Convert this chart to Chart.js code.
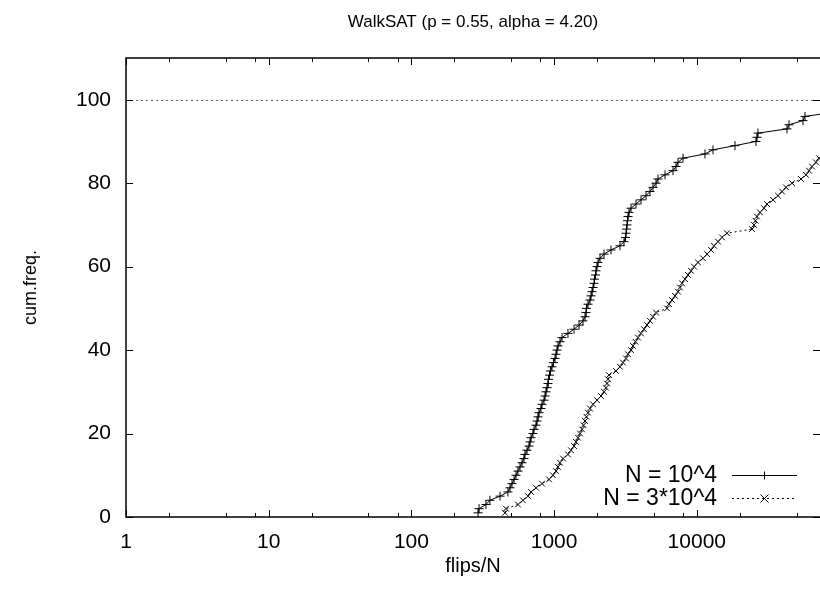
<!DOCTYPE html>
<html>
<head>
<meta charset="utf-8">
<script src="https://cdn.jsdelivr.net/npm/chart.js@4.4.1/dist/chart.umd.min.js"></script>
<style>
  html, body { margin: 0; padding: 0; background: #fff; overflow: hidden; }
</style>
</head>
<body>
<canvas id="walksatChart" width="820" height="592"></canvas>
<script>
// flips/N at which each run finished, and the cumulative count
const chartTitle = 'WalkSAT (p = 0.55, alpha = 4.20)';
const seriesNames = ['N = 10^4', 'N = 3*10^4'];

const flipsSmall = [293, 298, 333, 355, 418, 475, 491, 507, 524, 541,
    558, 577, 596, 615, 625, 646, 667, 678, 689, 711,
    723, 747, 759, 771, 784, 809, 823, 850, 864, 878,
    892, 906, 914, 929, 944, 967, 990, 1015, 1031, 1048,
    1065, 1100, 1136, 1251, 1379, 1495, 1594, 1647, 1673, 1687,
    1729, 1785, 1814, 1843, 1874, 1904, 1919, 1950, 1966, 1998,
    2031, 2097, 2237, 2504, 2896, 3089, 3165, 3191, 3217, 3243,
    3269, 3296, 3349, 3459, 3749, 4064, 4406, 4699, 4932, 5177,
    5347, 5986, 6811, 7148, 7384, 8007, 11414, 12989, 18521, 25990,
    26413, 26843, 42867, 44271, 55497, 57314, 90000];
const freqSmall = [1, 2, 3, 4, 5, 6, 7, 8, 9, 10,
    11, 12, 13, 14, 15, 16, 17, 18, 19, 20,
    21, 22, 23, 24, 25, 26, 27, 28, 29, 30,
    31, 32, 33, 34, 35, 36, 37, 38, 39, 40,
    41, 42, 43, 44, 45, 46, 47, 48, 49, 50,
    51, 52, 53, 54, 55, 56, 57, 58, 59, 60,
    61, 62, 63, 64, 65, 66, 67, 68, 69, 70,
    71, 72, 73, 74, 75, 76, 77, 78, 79, 80,
    81, 82, 83, 84, 85, 86, 87, 88, 89, 90,
    91, 92, 93, 94, 95, 96, 97];

const flipsLarge = [453, 460, 558, 605, 656, 689, 747, 823, 921, 982,
    1031, 1065, 1100, 1155, 1251, 1313, 1379, 1424, 1471, 1519,
    1569, 1607, 1647, 1687, 1729, 1785, 1874, 1998, 2131, 2237,
    2310, 2348, 2386, 2425, 2716, 2896, 3040, 3191, 3296, 3459,
    3572, 3719, 3871, 4064, 4266, 4478, 4699, 4932, 5177, 6183,
    6386, 6702, 7034, 7384, 7625, 7876, 8266, 8677, 9106, 9559,
    10195, 11050, 11790, 12579, 13203, 14084, 15022, 16277, 24371, 25170,
    25785, 26413, 27729, 29582, 31046, 34198, 37068, 39553, 42183, 46475,
    53737, 58246, 61135, 64164, 68440, 71835, 80418];
const freqLarge = [1, 2, 3, 4, 5, 6, 7, 8, 9, 10,
    11, 12, 13, 14, 15, 16, 17, 18, 19, 20,
    21, 22, 23, 24, 25, 26, 27, 28, 29, 30,
    31, 32, 33, 34, 35, 36, 37, 38, 39, 40,
    41, 42, 43, 44, 45, 46, 47, 48, 49, 50,
    51, 52, 53, 54, 55, 56, 57, 58, 59, 60,
    61, 62, 63, 64, 65, 66, 67, 68, 69, 70,
    71, 72, 73, 74, 75, 76, 77, 78, 79, 80,
    81, 82, 83, 84, 85, 86, 87];

const xTicks = [1, 10, 100, 1000, 10000];
const xMinorSteps = [2, 5, 8];
const yTicks = [0, 20, 40, 60, 80, 100];
const totalRuns = 100;

const FONT = 'Liberation Sans, Arial, Helvetica, sans-serif';

Chart.defaults.font.family = FONT;
Chart.defaults.font.size = 21;
Chart.defaults.color = '#000';

function toPoints(xs, ys) {
    return xs.map((v, i) => ({ x: v, y: ys[i] }));
}

function markPlus(ctx, x, y, r) {
    ctx.moveTo(x - r, y); ctx.lineTo(x + r, y);
    ctx.moveTo(x, y - r); ctx.lineTo(x, y + r);
}
function markCross(ctx, x, y, r) {
    ctx.moveTo(x - r, y - r); ctx.lineTo(x + r, y + r);
    ctx.moveTo(x - r, y + r); ctx.lineTo(x + r, y - r);
}

// gnuplot-like frame: inward ticks, mirrored, plus the dotted 100 line
const gnuFrame = {
    id: 'gnuFrame',
    beforeDatasetsDraw(chart) {
        const { ctx, chartArea: a, scales: { y } } = chart;
        const py = Math.round(y.getPixelForValue(totalRuns)) + 0.5;
        ctx.save();
        ctx.strokeStyle = '#666';
        ctx.lineWidth = 1;
        ctx.setLineDash([2, 3]);
        ctx.beginPath();
        ctx.moveTo(a.left, py);
        ctx.lineTo(a.right, py);
        ctx.stroke();
        ctx.restore();
    },
    afterDatasetsDraw(chart) {
        const { ctx, chartArea: a, scales: { x, y } } = chart;
        ctx.save();
        ctx.strokeStyle = '#000';
        ctx.lineWidth = 1;
        ctx.beginPath();
        xTicks.forEach(d => {
            const px = Math.round(x.getPixelForValue(d)) + 0.5;
            ctx.moveTo(px, a.bottom); ctx.lineTo(px, a.bottom - 7);
            ctx.moveTo(px, a.top); ctx.lineTo(px, a.top + 7);
            xMinorSteps.forEach(m => {
                if (d * m > x.max) return;
                const qx = Math.round(x.getPixelForValue(d * m)) + 0.5;
                ctx.moveTo(qx, a.bottom); ctx.lineTo(qx, a.bottom - 4);
                ctx.moveTo(qx, a.top); ctx.lineTo(qx, a.top + 4);
            });
        });
        yTicks.forEach(v => {
            const py = Math.round(y.getPixelForValue(v)) + 0.5;
            ctx.moveTo(a.left, py); ctx.lineTo(a.left + 7, py);
            ctx.moveTo(a.right, py); ctx.lineTo(a.right - 7, py);
        });
        ctx.stroke();

        ctx.lineWidth = 1.5;
        ctx.beginPath();
        ctx.moveTo(a.right, a.top);
        ctx.lineTo(a.left, a.top);
        ctx.lineTo(a.left, a.bottom);
        ctx.lineTo(a.right, a.bottom);
        ctx.stroke();

        // title, centred over the plot
        ctx.fillStyle = '#000';
        ctx.font = '17px ' + FONT;
        ctx.textAlign = 'center';
        ctx.textBaseline = 'middle';
        ctx.fillText(chartTitle, (a.left + a.right) / 2, 22);

        // key, bottom right, text left of the sample
        const rows = [
            { label: seriesNames[0], dash: [], mark: markPlus },
            { label: seriesNames[1], dash: [2, 3], mark: markCross }
        ];
        ctx.font = '23px ' + FONT;
        rows.forEach((r, i) => {
            const ly = 475 + i * 23;
            ctx.textAlign = 'right';
            ctx.fillText(r.label, 717, ly + 1);
            ctx.lineWidth = 1;
            ctx.setLineDash(r.dash);
            ctx.beginPath();
            ctx.moveTo(732, ly + 0.5); ctx.lineTo(797, ly + 0.5);
            ctx.stroke();
            ctx.setLineDash([]);
            ctx.beginPath();
            r.mark(ctx, 764.5, ly + 0.5, 4);
            ctx.stroke();
        });
        ctx.restore();
    }
};

const ctx = document.getElementById('walksatChart').getContext('2d');
const config = {
    type: 'line',
    data: {
        datasets: [{
            label: seriesNames[0],
            data: toPoints(flipsSmall, freqSmall),
            borderColor: '#000',
            borderWidth: 1,
            pointStyle: 'cross',
            pointRadius: 4.5,
            pointBorderColor: '#000',
            pointBorderWidth: 1,
            tension: 0
        },
        {
            label: seriesNames[1],
            data: toPoints(flipsLarge, freqLarge),
            borderColor: '#000',
            borderWidth: 1,
            borderDash: [2, 3],
            pointStyle: 'crossRot',
            pointRadius: 4,
            pointBorderColor: '#000',
            pointBorderWidth: 1,
            tension: 0
        }]
    },
    options: {
        responsive: false,
        animation: false,
        devicePixelRatio: 1,
        layout: { autoPadding: false, padding: { top: 58, right: 0, left: 0, bottom: 0 } },
        scales: {
            x: {
                type: 'logarithmic',
                min: 1,
                max: 73000,
                grid: { display: false, drawTicks: false, tickLength: 0 },
                border: { display: false },
                afterBuildTicks: (scale) => {
                    scale.ticks = xTicks.map(v => ({ value: v }));
                },
                afterFit: (scale) => {
                    scale.height = 75;
                    scale.paddingLeft = 0;
                    scale.paddingRight = 0;
                },
                ticks: {
                    autoSkip: false,
                    maxRotation: 0,
                    padding: 13,
                    callback: (v) => String(v)
                },
                title: { display: true, text: 'flips/N', font: { size: 20 }, padding: { top: 0, bottom: 14 } }
            },
            y: {
                min: 0,
                max: 110,
                grid: { display: false, drawTicks: false, tickLength: 0 },
                border: { display: false },
                afterBuildTicks: (scale) => {
                    scale.ticks = yTicks.map(v => ({ value: v }));
                },
                afterFit: (scale) => {
                    scale.width = 126;
                    scale.paddingTop = 0;
                    scale.paddingBottom = 0;
                },
                ticks: { padding: 15 },
                title: { display: true, text: 'cum.freq.', font: { size: 18 }, padding: { top: 20, bottom: 0 } }
            }
        },
        plugins: {
            legend: { display: false },
            tooltip: { enabled: false }
        }
    },
    plugins: [gnuFrame]
};

const walksatChart = new Chart(ctx, config);
</script>
</body>
</html>
